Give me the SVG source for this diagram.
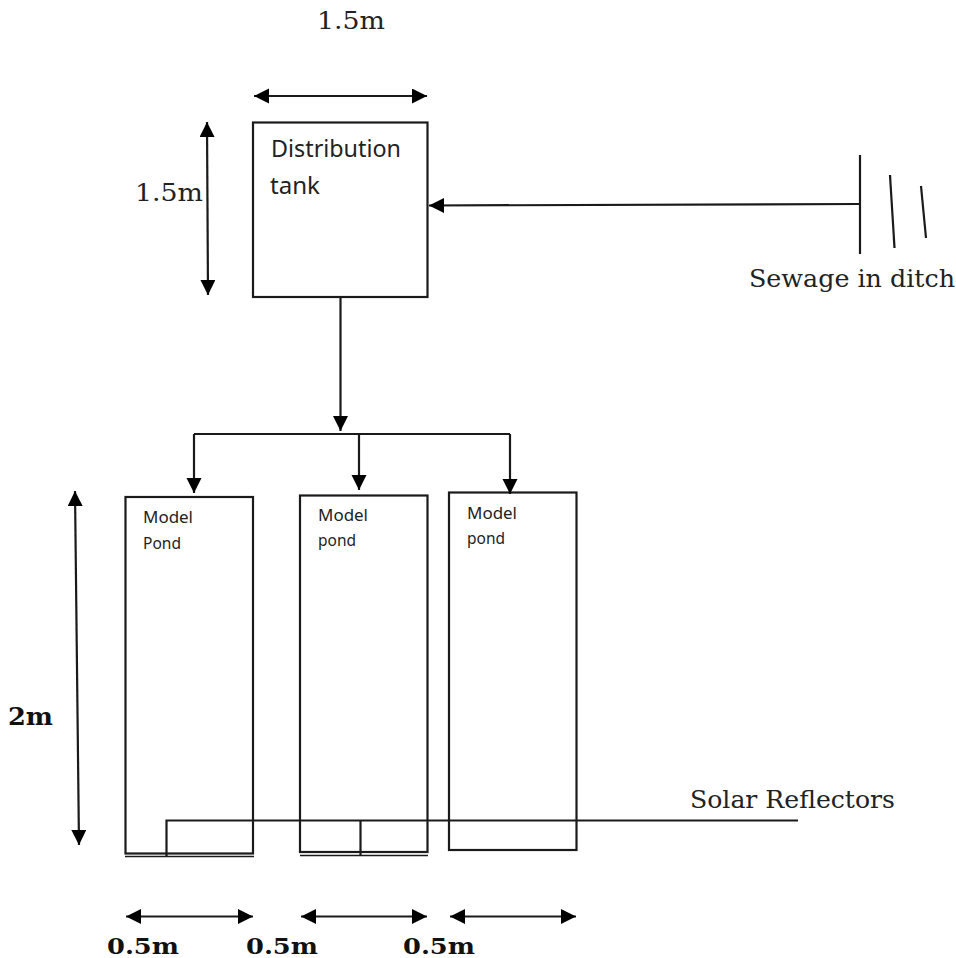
<svg xmlns="http://www.w3.org/2000/svg" width="956" height="958" viewBox="0 0 956 958">
<defs>
<marker id="a" markerUnits="userSpaceOnUse" markerWidth="16" markerHeight="16" refX="15" refY="7.500" orient="auto-start-reverse"><path d="M0 0L15 7.500L0 15Z" fill="#000"/></marker>
</defs>
<style>
.s{fill:#fff;stroke:#1a1a1a;stroke-width:2.200}
.l{fill:none;stroke:#1a1a1a;stroke-width:2.200}
.o{fill:none;stroke:#1a1a1a;stroke-width:1.600}
.a{marker-end:url(#a)}
.b{marker-start:url(#a);marker-end:url(#a)}
.c{font-family:"Noto Sans","Open Sans",sans-serif;fill:#222}
.d{font-family:"DejaVu Serif","Liberation Serif",serif;fill:#222;font-size:24px}
.e{font-family:"DejaVu Serif","Liberation Serif",serif;fill:#111;font-size:24px;font-weight:bold}
.f{font-family:"DejaVu Serif","Liberation Serif",serif;fill:#111;font-size:22.500px;font-weight:bold}
</style>
<g id="tank"><rect class="s" x="253" y="122.500" width="174.500" height="174.500"/>
<text class="c" x="271" y="157" font-size="23.500" textLength="130" lengthAdjust="spacingAndGlyphs">Distribution</text><text class="c" x="270" y="194" font-size="23.500" textLength="50" lengthAdjust="spacingAndGlyphs">tank</text></g>
<g id="pond1"><rect class="s" x="125.500" y="497" width="127.500" height="356.500"/>
<text class="c" x="143" y="523" font-size="16" textLength="50" lengthAdjust="spacingAndGlyphs">Model</text><text class="c" x="143" y="549" font-size="16" textLength="38" lengthAdjust="spacingAndGlyphs">Pond</text></g>
<g id="pond2"><rect class="s" x="300" y="495.500" width="127.500" height="356.500"/>
<text class="c" x="318" y="521" font-size="16" textLength="50" lengthAdjust="spacingAndGlyphs">Model</text><text class="c" x="318" y="546" font-size="16" textLength="38" lengthAdjust="spacingAndGlyphs">pond</text></g>
<g id="pond3"><rect class="s" x="449" y="492.500" width="127.500" height="357.500"/>
<text class="c" x="467" y="519" font-size="16" textLength="50" lengthAdjust="spacingAndGlyphs">Model</text><text class="c" x="467" y="544" font-size="16" textLength="38" lengthAdjust="spacingAndGlyphs">pond</text></g>
<g id="connectors">
<path class="a l" d="M860 204L429 205.500"/>
<path class="a l" d="M340.500 297V431"/>
<path class="l" d="M194 434H510"/>
<path class="a l" d="M194 434V493"/>
<path class="a l" d="M359 433V490"/>
<path class="a l" d="M510 434V494"/>
<path class="b l" d="M207 122L208 295"/>
<path class="b l" d="M254 96H427"/>
<path class="b l" d="M75 491L79 845"/>
<path class="b l" d="M126 916.500H253"/>
<path class="b l" d="M301 916.500H427"/>
<path class="b l" d="M450 916.500H576"/>
<path class="l" d="M860 155V254"/>
<path class="l" d="M890 175L894.500 248"/>
<path class="l" d="M921 186L926 238"/>
<path class="l" d="M166.500 857V820.500H798"/>
<path class="l" d="M360.500 820.500V856"/>
<path class="o" d="M125 856.500H254"/>
<path class="o" d="M300 855.500H428"/>
</g>
<text class="d" x="317" y="29" textLength="68" lengthAdjust="spacingAndGlyphs">1.5m</text>
<text class="d" x="135" y="201" textLength="68" lengthAdjust="spacingAndGlyphs">1.5m</text>
<text class="d" x="749" y="287" textLength="206" lengthAdjust="spacingAndGlyphs">Sewage in ditch</text>
<text class="d" x="690" y="808" textLength="205" lengthAdjust="spacingAndGlyphs">Solar Reflectors</text>
<text class="e" x="8" y="725" textLength="45" lengthAdjust="spacingAndGlyphs">2m</text>
<text class="f" x="107" y="953.500" textLength="72" lengthAdjust="spacingAndGlyphs">0.5m</text>
<text class="f" x="246" y="953.500" textLength="72" lengthAdjust="spacingAndGlyphs">0.5m</text>
<text class="f" x="403" y="953.500" textLength="72" lengthAdjust="spacingAndGlyphs">0.5m</text>
</svg>
